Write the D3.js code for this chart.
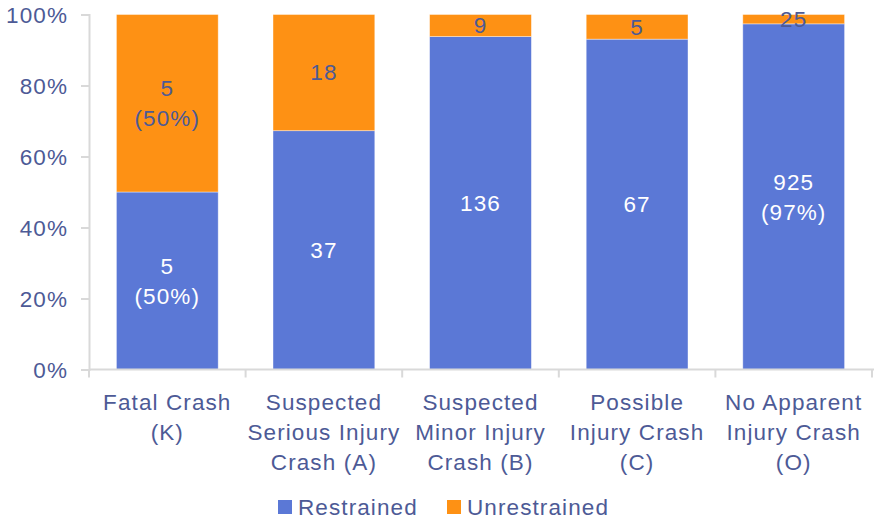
<!DOCTYPE html>
<html><head><meta charset="utf-8">
<script src="https://cdn.jsdelivr.net/npm/d3@7"></script>
<style>
html,body{margin:0;padding:0;background:#fff;}
text{font-family:"Liberation Sans",Arial,sans-serif;}
</style></head>
<body><svg id="chart" width="874" height="522"></svg>
<script>
const categories = ["Fatal Crash\n(K)", "Suspected\nSerious Injury\nCrash (A)", "Suspected\nMinor Injury\nCrash (B)", "Possible\nInjury Crash\n(C)", "No Apparent\nInjury Crash\n(O)"];
const restrained = [5, 37, 136, 67, 925];
const unrestrained = [5, 18, 9, 5, 25];
const restrainedShowPct = [true, false, false, false, true];
const unrestrainedShowPct = [true, false, false, false, false];
const seriesNames = ["Restrained", "Unrestrained"];
const yTicks = [0, 0.2, 0.4, 0.6, 0.8, 1.0];

const colors = {Restrained: "#5b78d6", Unrestrained: "#fe9114"};
const textColor = "#4d5a96";
const gridColor = "#d9d9d9";
const FS = "22.5px", LS = "1.1px";

const svg = d3.select("#chart");
const margin = {left: 89, right: 2, top: 14.5, bottom: 152};
const W = 874, H = 522;
const x = d3.scaleBand().domain(categories).range([margin.left, W - margin.right]).paddingInner(0.35).paddingOuter(0.175);
const y = d3.scaleLinear().domain([0, 1]).range([H - margin.bottom - 0.5, margin.top]);

const rows = categories.map((c, i) => {
  const tot = restrained[i] + unrestrained[i];
  return {cat: c, Restrained: restrained[i] / tot, Unrestrained: unrestrained[i] / tot, i};
});
const stack = d3.stack().keys(seriesNames)(rows);

// bars
svg.append("g").selectAll("g").data(stack).join("g")
  .attr("fill", d => colors[d.key])
  .selectAll("rect").data(d => d).join("rect")
  .attr("x", d => x(d.data.cat))
  .attr("width", x.bandwidth())
  .attr("y", d => y(d[1]))
  .attr("height", d => y(d[0]) - y(d[1]))
  .attr("stroke", "#ffffff").attr("stroke-opacity", 0.5).attr("stroke-width", 0.8);

// y axis
const yAxis = d3.axisLeft(y).tickValues(yTicks).tickFormat(d3.format(".0%")).tickSize(8).tickPadding(13);
const ga = svg.append("g").attr("transform", `translate(${margin.left},0)`).call(yAxis);
ga.select(".domain").attr("stroke", gridColor).attr("stroke-width", 2);
ga.selectAll(".tick line").attr("stroke", gridColor).attr("stroke-width", 2);
ga.selectAll(".tick text").attr("fill", textColor).style("font-size", FS).style("letter-spacing", LS).attr("dy", "0.35em");

// x axis
const xAxisG = svg.append("g").attr("transform", `translate(0,${y(0)})`);
xAxisG.append("line").attr("x1", margin.left).attr("x2", W).attr("stroke", gridColor).attr("stroke-width", 2);
const bounds = categories.map((c, i) => x(c) - x.step() * x.paddingInner() / 2);
bounds.push(W - margin.right);
xAxisG.selectAll("line.tk").data(bounds).join("line").attr("class", "tk")
  .attr("x1", d => d).attr("x2", d => d).attr("y1", 0).attr("y2", 8)
  .attr("stroke", gridColor).attr("stroke-width", 2);
xAxisG.selectAll("text.lbl").data(categories).join("text").attr("class", "lbl")
  .attr("x", d => x(d) + x.bandwidth() / 2)
  .attr("text-anchor", "middle")
  .attr("fill", textColor).style("font-size", FS).style("letter-spacing", LS)
  .each(function(d) {
    const t = d3.select(this);
    d.split("\n").forEach((line, k) => {
      t.append("tspan").attr("x", x(d) + x.bandwidth() / 2).attr("y", 40 + k * 30).text(line);
    });
  });

// value labels
const rawVals = {Restrained: restrained, Unrestrained: unrestrained};
const showPct = {Restrained: restrainedShowPct, Unrestrained: unrestrainedShowPct};
stack.forEach(s => {
  svg.append("g").selectAll("text").data(s).join("text")
    .attr("text-anchor", "middle")
    .attr("fill", s.key === "Restrained" ? "#ffffff" : textColor)
    .style("font-size", FS).style("letter-spacing", LS)
    .each(function(d) {
      const i = d.data.i;
      const cx = x(d.data.cat) + x.bandwidth() / 2;
      const cy = (y(d[0]) + y(d[1])) / 2;
      const t = d3.select(this);
      const lines = [String(rawVals[s.key][i])];
      if (showPct[s.key][i]) lines.push("(" + d3.format(".0%")(d[1] - d[0]) + ")");
      const n = lines.length;
      lines.forEach((ln, k) => {
        t.append("tspan").attr("x", cx).attr("y", cy + (k - (n - 1) / 2) * 30).attr("dy", "0.35em").text(ln);
      });
    });
});

// legend
const legend = svg.append("g");
const legItems = [{name: "Restrained", x: 278}, {name: "Unrestrained", x: 447}];
legItems.forEach(it => {
  legend.append("rect").attr("x", it.x).attr("y", 500).attr("width", 14).attr("height", 14).attr("fill", colors[it.name]);
  legend.append("text").attr("x", it.x + 20).attr("y", 507).attr("dy", "0.35em")
    .attr("fill", textColor).style("font-size", FS).style("letter-spacing", LS).text(it.name);
});
</script></body></html>
